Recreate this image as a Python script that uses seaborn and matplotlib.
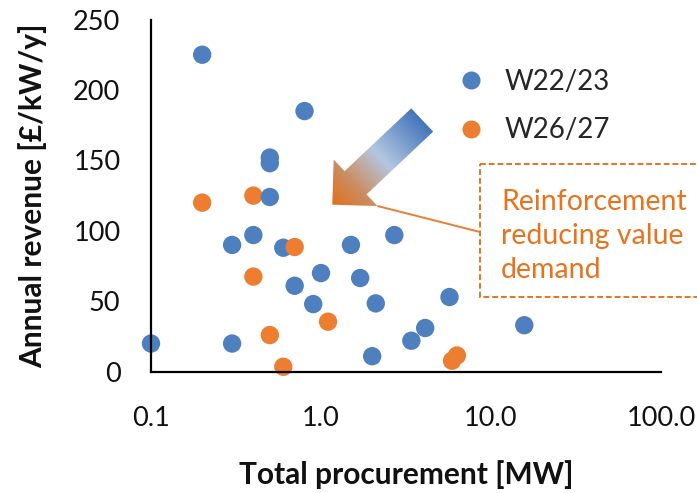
import numpy as np
import pandas as pd
import matplotlib
matplotlib.use("Agg")
import matplotlib.pyplot as plt
from matplotlib.patches import Polygon, Rectangle
from matplotlib.colors import LinearSegmentedColormap
from matplotlib.lines import Line2D
import seaborn as sns

# ---------------- data ----------------
w22_procurement = [0.2, 0.8, 0.5, 0.5, 0.5, 0.3, 0.4, 0.6, 0.7, 1.0, 0.9, 0.1, 0.3,
                   2.7, 1.5, 1.7, 2.1, 5.7, 15.7, 4.1, 3.4, 2.0]
w22_revenue = [225, 185, 152, 148, 124, 90, 97, 88, 61, 70, 48, 20, 20,
               97, 90, 66.5, 48.5, 53, 33, 31, 22, 11]
w26_procurement = [0.2, 0.4, 0.7, 0.4, 1.1, 0.5, 0.6, 5.9, 6.3]
w26_revenue = [120, 125, 88.5, 67.5, 35.5, 26, 3.5, 7.8, 11.5]
series_names = ["W22/23", "W26/27"]
y_ticks = [0, 50, 100, 150, 200, 250]
x_ticks = [0.1, 1.0, 10.0, 100.0]
x_tick_labels = ["0.1", "1.0", "10.0", "100.0"]
annotation_text = "Reinforcement\nreducing value\ndemand"

BLUE = "#4E7FBE"
ORANGE = "#ED7D31"

df = pd.concat([
    pd.DataFrame({"procurement": w26_procurement[:2], "revenue": w26_revenue[:2], "window": series_names[1]}),
    pd.DataFrame({"procurement": w22_procurement, "revenue": w22_revenue, "window": series_names[0]}),
    pd.DataFrame({"procurement": w26_procurement[2:], "revenue": w26_revenue[2:], "window": series_names[1]}),
], ignore_index=True)

sns.set_theme(style="white")
plt.rcParams["font.family"] = ["Lato", "DejaVu Sans"]

W, H = 697, 493
fig = plt.figure(figsize=(W / 100, H / 100), dpi=100)
L, R, T, B = 151, 661, 19.5, 371.7
ax = fig.add_axes([L / W, 1 - B / H, (R - L) / W, (B - T) / H])

sns.scatterplot(data=df, x="procurement", y="revenue", hue="window",
                hue_order=series_names, palette=[BLUE, ORANGE],
                s=175, linewidth=0, ax=ax, legend=False, clip_on=False)

ax.set_xscale("log")
ax.set_xlim(0.1, 100)
ax.set_ylim(0, 250)
ax.set_xticks(x_ticks)
ax.set_xticklabels(x_tick_labels)
ax.minorticks_off()
ax.set_yticks(y_ticks)
for s in ["top", "right"]:
    ax.spines[s].set_visible(False)
for s in ["left", "bottom"]:
    ax.spines[s].set_color("black")
    ax.spines[s].set_linewidth(1.6)
ax.tick_params(axis="both", direction="out", length=7, width=1.6, color="black",
               labelsize=19.5, labelcolor="#111111")
ax.tick_params(axis="y", pad=15)
ax.tick_params(axis="x", pad=18)
ax.set_xlabel("Total procurement [MW]", fontsize=21.5, fontweight="bold", labelpad=21, color="#111111")
ax.set_ylabel("Annual revenue [£/kW/y]", fontsize=21.5, fontweight="bold", labelpad=19, color="#111111")
ax.grid(False)

handles = [Line2D([], [], marker="o", linestyle="", markersize=13, color=c, markeredgewidth=0)
           for c in [BLUE, ORANGE]]
leg = ax.legend(handles, series_names, loc="upper left", frameon=False, fontsize=20,
                handlelength=1.0, handletextpad=0.72, labelspacing=0.8, borderpad=0,
                borderaxespad=0, bbox_to_anchor=(457 / W, 1 - 69 / H),
                bbox_transform=fig.transFigure)

# ---------------- overlay annotation (pixel coordinates) ----------------
ov = fig.add_axes([0, 0, 1, 1], zorder=5)
ov.set_xlim(0, W)
ov.set_ylim(H, 0)
ov.axis("off")
ov.patch.set_alpha(0)

tip = np.array([332.3, 204.7])
tail = np.array([422.2, 120.0])
length = np.linalg.norm(tail - tip)
d = (tail - tip) / length
n = np.array([-d[1], d[0]])
if n[0] < 0:
    n = -n
head_len, head_hw, shaft_hw = 32.0, 32.0, 16.0
base = tip + head_len * d
pts = np.array([
    tip,
    base + head_hw * n,
    base + shaft_hw * n,
    tail + shaft_hw * n,
    tail - shaft_hw * n,
    base - shaft_hw * n,
    base - head_hw * n,
])
arrow_poly = Polygon(pts, closed=True, facecolor="none", edgecolor="none")
ov.add_patch(arrow_poly)

x0, x1 = pts[:, 0].min() - 2, pts[:, 0].max() + 2
y0, y1 = pts[:, 1].min() - 2, pts[:, 1].max() + 2
gx, gy = np.meshgrid(np.linspace(x0, x1, 300), np.linspace(y0, y1, 300))
t = ((gx - tip[0]) * d[0] + (gy - tip[1]) * d[1]) / length
cmap = LinearSegmentedColormap.from_list(
    "arr", [(0.0, "#E2701C"), (0.22, "#CC8A5A"), (0.55, "#B3C7E1"), (1.0, "#4475BA")])
im = ov.imshow(np.clip(t, 0, 1), cmap=cmap, vmin=0, vmax=1, extent=(x0, x1, y1, y0),
               origin="upper", interpolation="bilinear", aspect="auto")
im.set_clip_path(arrow_poly)
ov.set_xlim(0, W)
ov.set_ylim(H, 0)

# connector line and dashed box
ov.plot([377.5, 480], [206, 232], color=ORANGE, lw=1.4, solid_capstyle="butt")
ov.add_patch(Rectangle((480, 164), 240, 133, facecolor="white", edgecolor="#E8741F",
                       lw=1.4, linestyle=(0, (3, 1.5)), clip_on=True))
ov.text(501, 236, annotation_text, color="#E8731E", fontsize=20.5, ha="left", va="center",
        linespacing=1.4)

fig.savefig("out.png", dpi=100)
